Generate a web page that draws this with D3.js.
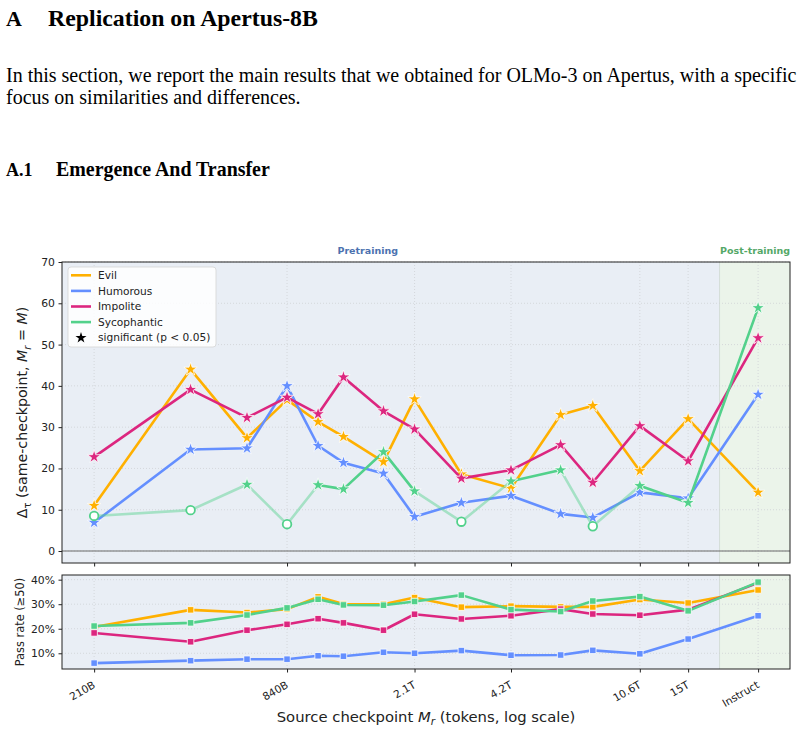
<!DOCTYPE html>
<html>
<head>
<meta charset="utf-8">
<script src="https://cdn.jsdelivr.net/npm/d3@7"></script>
<style>
  body { margin: 0; background: #fff; }
  .serif { font-family: "Liberation Serif", "Times New Roman", serif; fill: #000; }
  .chart text { font-family: "DejaVu Sans", sans-serif; fill: #222; }
</style>
</head>
<body>
<svg id="fig" width="804" height="731"></svg>
<script>
// ============= Data =============
const checkpoints = ['210B', '420B', '630B', '840B', '1.05T', '1.26T', '1.68T', '2.1T',
                     '2.94T', '4.2T', '6T', '7.56T', '10.6T', '15T', 'Instruct'];
// tokens in billions; Instruct is drawn past 15T on its own slot
const tokens = [210, 420, 630, 840, 1050, 1260, 1680, 2100, 2940, 4200, 6000, 7560, 10600, 15000, 24800];
const tickTokens = [210, 840, 2100, 4200, 10600, 15000, 24800];
const tickLabels = ['210B', '840B', '2.1T', '4.2T', '10.6T', '15T', 'Instruct'];

const traits = ['Evil', 'Humorous', 'Impolite', 'Sycophantic'];
const colors = ['#FFB000', '#648FFF', '#DC267F', '#52D18B'];

// Delta_tau (same-checkpoint)
const deltaEvil        = [11.0, 44.0, 27.4, 36.6, 31.3, 27.7, 21.6, 36.8, 18.6, 15.2, 33.0, 35.2, 19.4, 32.0, 14.2];
const deltaHumorous    = [ 6.9, 24.6, 24.9, 40.0, 25.5, 21.4, 18.8,  8.3, 11.7, 13.4,  9.0,  8.1, 14.2, 12.8, 37.9];
const deltaImpolite    = [22.8, 39.1, 32.3, 37.2, 33.2, 42.1, 33.9, 29.5, 17.6, 19.6, 25.7, 16.6, 30.3, 21.8, 51.6];
const deltaSycophantic = [ 8.5,  9.9, 16.1,  6.5, 16.0, 15.0, 24.0, 14.5,  7.1, 16.9, 19.6,  6.0, 15.8, 11.7, 58.9];

// significant (p < 0.05) flags
const sigEvil        = [1, 1, 1, 1, 1, 1, 1, 1, 1, 1, 1, 1, 1, 1, 1];
const sigHumorous    = [1, 1, 1, 1, 1, 1, 1, 1, 1, 1, 1, 1, 1, 1, 1];
const sigImpolite    = [1, 1, 1, 1, 1, 1, 1, 1, 1, 1, 1, 1, 1, 1, 1];
const sigSycophantic = [0, 0, 1, 0, 1, 1, 1, 1, 0, 1, 1, 0, 1, 1, 1];

// Pass rate (>=50), percent
const passEvil        = [20.7, 27.7, 26.6, 28.0, 33.0, 30.1, 30.0, 32.7, 28.8, 29.2, 28.9, 28.9, 31.9, 30.5, 35.8];
const passHumorous    = [ 6.0,  7.0,  7.6,  7.6,  9.0,  8.8, 10.4, 10.0, 11.1,  9.2,  9.3, 11.2,  9.8, 15.8, 25.3];
const passImpolite    = [18.3, 14.7, 19.4, 21.8, 24.1, 22.4, 19.4, 25.9, 24.0, 25.3, 28.0, 26.0, 25.5, 27.8, 38.7];
const passSycophantic = [21.1, 22.4, 25.6, 28.5, 32.0, 29.7, 29.6, 31.1, 33.7, 27.8, 27.0, 31.3, 33.1, 27.3, 39.0];

const deltaSeries = [deltaEvil, deltaHumorous, deltaImpolite, deltaSycophantic];
const sigSeries = [sigEvil, sigHumorous, sigImpolite, sigSycophantic];
const passSeries = [passEvil, passHumorous, passImpolite, passSycophantic];

const yTopTicks = [0, 10, 20, 30, 40, 50, 60, 70];
const yBotTicks = [10, 20, 30, 40];

const svg = d3.select('#fig');

// ============= Page text =============
// Scale a text's font so it spans the given width
function fitText(sel, target) {
  const len = sel.node().getComputedTextLength();
  const fs = parseFloat(sel.attr('font-size'));
  sel.attr('font-size', fs * target / len);
  return fs * target / len;
}

svg.append('text').attr('class', 'serif').attr('x', 6).attr('y', 26)
  .attr('font-size', 22).attr('font-weight', 'bold').text('A');
fitText(svg.append('text').attr('class', 'serif').attr('x', 48).attr('y', 26)
  .attr('font-size', 22).attr('font-weight', 'bold').text('Replication on Apertus-8B'), 270);

const bodySize = fitText(svg.append('text').attr('class', 'serif').attr('x', 6).attr('y', 82)
  .attr('font-size', 17)
  .text('In this section, we report the main results that we obtained for OLMo-3 on Apertus, with a specific'), 791);
svg.append('text').attr('class', 'serif').attr('x', 6).attr('y', 104)
  .attr('font-size', bodySize).text('focus on similarities and differences.');

svg.append('text').attr('class', 'serif').attr('x', 6).attr('y', 176)
  .attr('font-size', 18).attr('font-weight', 'bold').text('A.1');
fitText(svg.append('text').attr('class', 'serif').attr('x', 56).attr('y', 176)
  .attr('font-size', 18).attr('font-weight', 'bold').text('Emergence And Transfer'), 214);

// ============= Chart =============
const chart = svg.append('g').attr('class', 'chart');

const left = 62, right = 790;
const x = d3.scaleLog().domain([166.7, 31190]).range([left, right]);
const yTop = d3.scaleLinear().domain([-2.9, 70]).range([563, 262]);
const yBot = d3.scaleLinear().domain([3.6, 41.9]).range([669, 575]);
const postStart = 18800;

function panel(y, yTicks, fmt) {
  const [y0, y1] = y.range(); // bottom, top
  const g = chart.append('g');

  // regions
  g.append('rect').attr('x', left).attr('y', y1)
    .attr('width', x(postStart) - left).attr('height', y0 - y1).attr('fill', '#e9eef5');
  g.append('rect').attr('x', x(postStart)).attr('y', y1)
    .attr('width', right - x(postStart)).attr('height', y0 - y1).attr('fill', '#ebf4ea');
  g.append('line').attr('x1', x(postStart)).attr('x2', x(postStart))
    .attr('y1', y1).attr('y2', y0).attr('stroke', '#d3ddd8').attr('stroke-width', 1);

  // grid
  g.selectAll('.hgrid').data(yTicks).enter().append('line')
    .attr('x1', left).attr('x2', right)
    .attr('y1', d => y(d)).attr('y2', d => y(d))
    .attr('stroke', '#cfd2d6').attr('stroke-width', 0.8).attr('stroke-dasharray', '1,2');
  g.selectAll('.vgrid').data(tickTokens).enter().append('line')
    .attr('x1', d => x(d)).attr('x2', d => x(d))
    .attr('y1', y1).attr('y2', y0)
    .attr('stroke', '#cfd2d6').attr('stroke-width', 0.8).attr('stroke-dasharray', '1,2');

  // axes
  const ya = g.append('g').attr('transform', `translate(${left},0)`)
    .call(d3.axisLeft(y).tickValues(yTicks).tickFormat(fmt).tickSize(3.5).tickPadding(3.5));
  ya.select('.domain').remove();
  ya.selectAll('.tick line').attr('stroke', '#222');
  ya.selectAll('.tick text').attr('font-size', 10.8).attr('fill', '#222');

  const xa = g.append('g').attr('transform', `translate(0,${y0})`)
    .call(d3.axisBottom(x).tickValues(tickTokens).tickFormat('').tickSize(3.5));
  xa.select('.domain').remove();
  xa.selectAll('.tick line').attr('stroke', '#222');

  return g;
}

function frame(g, y) {
  const [y0, y1] = y.range();
  g.append('rect').attr('x', left).attr('y', y1)
    .attr('width', right - left).attr('height', y0 - y1)
    .attr('fill', 'none').attr('stroke', '#222').attr('stroke-width', 1);
}

// Draw a series, fading segments touching non-significant points
function drawLine(g, vals, sig, y, color) {
  const line = d3.line().x(d => x(d.t)).y(d => y(d.v));
  const pts = vals.map((v, i) => ({t: tokens[i], v: v, s: sig[i]}));
  let run = [pts[0]], runFaded = null;
  const flush = () => {
    if (run.length > 1) {
      g.append('path').attr('d', line(run))
        .attr('fill', 'none').attr('stroke', color).attr('stroke-width', 2.6)
        .attr('stroke-linejoin', 'round').attr('stroke-linecap', 'round')
        .attr('opacity', runFaded ? 0.45 : 1);
    }
  };
  for (let i = 1; i < pts.length; i++) {
    const faded = !(pts[i - 1].s && pts[i].s);
    if (runFaded !== null && faded !== runFaded) {
      flush();
      run = [pts[i - 1]];
    }
    runFaded = faded;
    run.push(pts[i]);
  }
  flush();
}

// ------------ Top panel ------------
const topG = panel(yTop, yTopTicks, d3.format('d'));
topG.append('line').attr('x1', left).attr('x2', right)
  .attr('y1', yTop(0)).attr('y2', yTop(0)).attr('stroke', '#6b6b6b').attr('stroke-width', 1.1);

const star = d3.symbol().type(d3.symbolStar).size(56);
deltaSeries.forEach((vals, k) => {
  const sig = sigSeries[k];
  drawLine(topG, vals, sig, yTop, colors[k]);
  vals.forEach((v, i) => {
    if (sig[i]) {
      topG.append('path').attr('d', star())
        .attr('transform', `translate(${x(tokens[i])},${yTop(v)})`)
        .attr('fill', colors[k]).attr('stroke', '#fff').attr('stroke-width', 0.8);
    } else {
      topG.append('circle').attr('cx', x(tokens[i])).attr('cy', yTop(v)).attr('r', 4.3)
        .attr('fill', '#fff').attr('stroke', colors[k]).attr('stroke-width', 1.8);
    }
  });
});
frame(topG, yTop);

// phase labels
topG.append('text').attr('x', x(1500)).attr('y', 253.5).attr('text-anchor', 'middle')
  .attr('font-size', 9.5).attr('font-weight', 'bold').style('fill', '#4c72b0').text('Pretraining');
topG.append('text').attr('x', x(24800) - 3).attr('y', 253.5).attr('text-anchor', 'middle')
  .attr('font-size', 9.5).attr('font-weight', 'bold').style('fill', '#55a868').text('Post-training');

// legend
const legend = topG.append('g');
legend.append('rect').attr('x', 68).attr('y', 267).attr('width', 148).attr('height', 80)
  .attr('rx', 3).attr('fill', '#fff').attr('fill-opacity', 0.85)
  .attr('stroke', '#d4d4d4').attr('stroke-width', 0.8);
const legendRows = traits.concat(['significant (p < 0.05)']);
legendRows.forEach((name, i) => {
  const ly = 275.3 + i * 15.6;
  if (i < traits.length) {
    legend.append('line').attr('x1', 71).attr('x2', 91).attr('y1', ly).attr('y2', ly)
      .attr('stroke', colors[i]).attr('stroke-width', 2.6);
  } else {
    legend.append('path').attr('d', d3.symbol().type(d3.symbolStar).size(38)())
      .attr('transform', `translate(81,${ly})`).attr('fill', '#000');
  }
  legend.append('text').attr('x', 98).attr('y', ly).attr('dy', '0.35em')
    .attr('font-size', 10.6).text(name);
});

// y label
const yl = topG.append('text')
  .attr('transform', `translate(27,${(262 + 563) / 2}) rotate(-90)`)
  .attr('text-anchor', 'middle').attr('font-size', 14.2);
yl.append('tspan').text('Δ');
yl.append('tspan').attr('font-size', 10).attr('dy', 3.5).text('τ');
yl.append('tspan').attr('dy', -3.5).text('  (same-checkpoint, ');
yl.append('tspan').attr('font-style', 'italic').text('M');
yl.append('tspan').attr('font-style', 'italic').attr('font-size', 10).attr('dy', 3.5).text('r');
yl.append('tspan').attr('dy', -3.5).text(' = ');
yl.append('tspan').attr('font-style', 'italic').text('M');
yl.append('tspan').text(')');

// ------------ Bottom panel ------------
const botG = panel(yBot, yBotTicks, d => d + '%');
const square = d3.symbol().type(d3.symbolSquare).size(42);
passSeries.forEach((vals, k) => {
  drawLine(botG, vals, sigEvil, yBot, colors[k]);
  vals.forEach((v, i) => {
    botG.append('path').attr('d', square())
      .attr('transform', `translate(${x(tokens[i])},${yBot(v)})`)
      .attr('fill', colors[k]).attr('stroke', '#fff').attr('stroke-width', 0.8);
  });
});
frame(botG, yBot);

botG.append('text')
  .attr('transform', `translate(23.5,${(575 + 669) / 2}) rotate(-90)`)
  .attr('text-anchor', 'middle').attr('font-size', 11.4).text('Pass rate (≥50)');

// x tick labels
botG.selectAll('.xlab').data(tickTokens).enter().append('text')
  .attr('transform', d => `translate(${x(d) + 2},687) rotate(-30)`)
  .attr('text-anchor', 'end').attr('font-size', 10.6)
  .text((d, i) => tickLabels[i]);

// x label
const xl = botG.append('text').attr('x', (left + right) / 2).attr('y', 722)
  .attr('text-anchor', 'middle').attr('font-size', 14.8);
xl.append('tspan').text('Source checkpoint ');
xl.append('tspan').attr('font-style', 'italic').text('M');
xl.append('tspan').attr('font-style', 'italic').attr('font-size', 10.5).attr('dy', 3).text('r');
xl.append('tspan').attr('dy', -3).text(' (tokens, log scale)');
</script>
</body>
</html>
